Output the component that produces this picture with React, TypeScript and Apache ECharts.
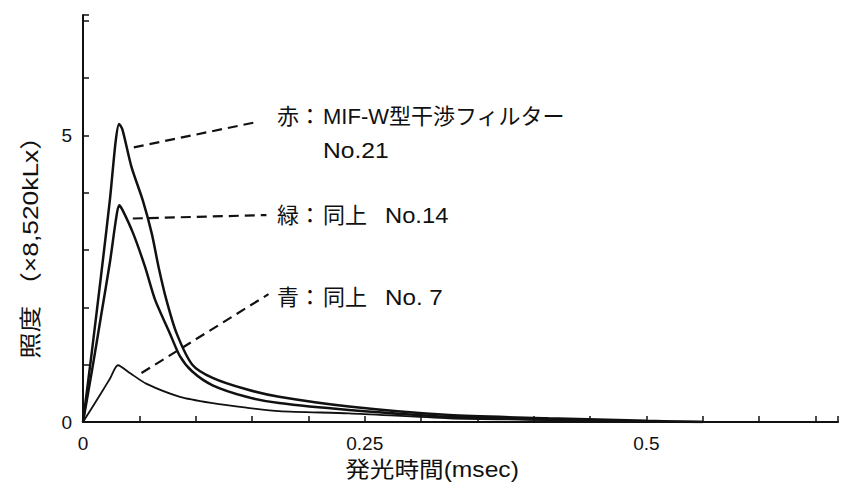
import React, { useEffect, useRef } from "react";
import * as echarts from "echarts";

// Illuminance decay curves (unit: ×8,520 kLx) vs. emission time (msec)
const no21Time = [0, 0.008, 0.016, 0.024, 0.029, 0.032, 0.035, 0.043, 0.053, 0.061, 0.067, 0.074, 0.083, 0.097, 0.115, 0.145, 0.174, 0.236, 0.325, 0.413, 0.5, 0.55];
const no21Lux = [0, 1.25, 2.55, 3.9, 4.9, 5.2, 5.1, 4.45, 3.87, 3.29, 2.71, 2.13, 1.55, 1.0, 0.77, 0.57, 0.44, 0.27, 0.12, 0.065, 0.02, 0];

const no14Time = [0, 0.008, 0.016, 0.024, 0.029, 0.032, 0.035, 0.0445, 0.055, 0.064, 0.077, 0.086, 0.097, 0.115, 0.145, 0.174, 0.236, 0.325, 0.413, 0.5, 0.55];
const no14Lux = [0, 0.9, 1.85, 2.8, 3.5, 3.78, 3.7, 3.29, 2.71, 2.13, 1.55, 1.15, 0.88, 0.64, 0.44, 0.33, 0.21, 0.09, 0.045, 0.01, 0];

const no7Time = [0, 0.008, 0.016, 0.024, 0.031, 0.042, 0.056, 0.086, 0.115, 0.145, 0.174, 0.236, 0.325, 0.413, 0.5, 0.55];
const no7Lux = [0, 0.25, 0.5, 0.76, 0.99, 0.85, 0.67, 0.44, 0.33, 0.25, 0.19, 0.15, 0.065, 0.035, 0.005, 0];

// Leader lines: [startTime, startLux, endTime, endLux]
const no21Leader = [0.0451, 4.79, 0.1558, 5.24];
const no14Leader = [0.0442, 3.55, 0.1628, 3.61];
const no7Leader = [0.0519, 0.854, 0.1646, 2.23];

const xLabelTicks = [0, 0.25, 0.5];
const yLabelTicks = [0, 5];

const FONT = "'Liberation Sans', 'Noto Sans CJK JP', sans-serif";
const INK = "#111";

const pairs = (xs: number[], ys: number[]) => xs.map((x, i) => [x, ys[i]]);

const leader = (l: number[]) => ({
  silent: true,
  symbol: ["none", "none"],
  label: { show: false },
  lineStyle: { color: INK, width: 2.2, type: [10, 6] },
  data: [[{ coord: [l[0], l[1]] }, { coord: [l[2], l[3]] }]],
});

const curve = (name: string, xs: number[], ys: number[], l: number[], width: number) => ({
  name,
  type: "line",
  data: pairs(xs, ys),
  showSymbol: false,
  smooth: 0.25,
  lineStyle: { color: INK, width },
  markLine: leader(l),
  z: 3,
});

const txt = (text: string, x: number, y: number, size = 22, extra: any = {}) => ({
  type: "text",
  x,
  y,
  ...extra,
  style: {
    text,
    fontSize: size,
    fontFamily: FONT,
    fill: INK,
    align: extra.align || "left",
    verticalAlign: "middle",
  },
});

export default function App() {
  const ref = useRef<HTMLDivElement>(null);

  useEffect(() => {
    if (!ref.current) return;
    const chart = echarts.init(ref.current, null, { renderer: "svg" });
    const near = (v: number, list: number[]) => list.some((t) => Math.abs(v - t) < 1e-6);
    chart.setOption({
      animation: false,
      backgroundColor: "#fff",
      grid: { left: 83, top: 15, width: 757, height: 407 },
      xAxis: {
        type: "value",
        min: 0,
        max: 0.67,
        interval: 0.05,
        splitLine: { show: false },
        axisLine: { lineStyle: { color: INK, width: 2 } },
        axisTick: { inside: true, length: 6, lineStyle: { color: INK, width: 1.5 } },
        axisLabel: {
          color: INK,
          fontSize: 19,
          fontFamily: FONT,
          margin: 12,
          formatter: (v: number) => (near(v, xLabelTicks) ? String(Math.round(v * 100) / 100) : ""),
        },
      },
      yAxis: {
        type: "value",
        min: 0,
        max: 7.1,
        interval: 1,
        splitLine: { show: false },
        axisLine: { lineStyle: { color: INK, width: 2 } },
        axisTick: { inside: true, length: 6, lineStyle: { color: INK, width: 1.5 } },
        axisLabel: {
          color: INK,
          fontSize: 19,
          fontFamily: FONT,
          margin: 11,
          formatter: (v: number) => (near(v, yLabelTicks) ? String(v) : ""),
        },
      },
      series: [
        curve("赤 No.21", no21Time, no21Lux, no21Leader, 2.5),
        curve("緑 No.14", no14Time, no14Lux, no14Leader, 2.5),
        curve("青 No.7", no7Time, no7Lux, no7Leader, 1.8),
      ],
      graphic: [
        txt("赤：", 277, 116),
        txt("MIF-W型干渉フィルター", 323, 116, 22, { scaleX: 1.0 }),
        txt("No.21", 323, 150, 22, { scaleX: 1.12 }),
        txt("緑：", 277, 215),
        txt("同上", 323, 215),
        txt("No.14", 385, 215, 22, { scaleX: 1.08 }),
        txt("青：", 277, 297),
        txt("同上", 323, 297),
        txt("No. 7", 385, 297, 22, { scaleX: 1.1 }),
        txt("発光時間(msec)", 432, 469, 22, { align: "center", scaleX: 1.12 }),
        txt("照度 （×8,520kLx）", 30, 241, 22, { align: "center", rotation: Math.PI / 2, scaleX: 1.2 }),
      ],
    });
    return () => chart.dispose();
  }, []);

  return (
    <div
      ref={ref}
      style={{ position: "absolute", left: 0, top: 0, width: 841, height: 502, background: "#fff" }}
    />
  );
}
